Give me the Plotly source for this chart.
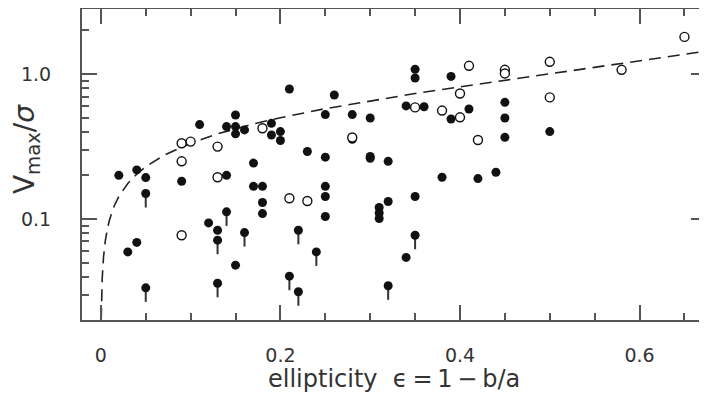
import plotly.graph_objects as go

# dashed model curve
curve_x = [0.0004, 0.0006, 0.0015, 0.003, 0.005, 0.0075, 0.01, 0.015, 0.02, 0.03, 0.04, 0.05,
           0.07, 0.1, 0.13, 0.17, 0.2, 0.25, 0.3, 0.35, 0.4, 0.45, 0.5, 0.55, 0.6, 0.65, 0.676]
curve_y = [0.0200, 0.0245, 0.0387, 0.0549, 0.0709, 0.0870, 0.1005, 0.1234, 0.1429, 0.1759, 0.2041, 0.2294,
           0.2744, 0.3333, 0.3866, 0.4526, 0.5000, 0.5774, 0.6547, 0.7338, 0.8165, 0.9045, 1.0000,
           1.1055, 1.2247, 1.3628, 1.4445]

# filled circles (measured values)
filled_x = [0.02, 0.04, 0.05, 0.09, 0.11, 0.14, 0.14, 0.15, 0.15, 0.15, 0.16, 0.17, 0.17, 0.18,
            0.18, 0.18, 0.19, 0.19, 0.20, 0.20, 0.21, 0.12, 0.13, 0.04, 0.03, 0.15, 0.23, 0.25,
            0.25, 0.25, 0.25, 0.25, 0.26, 0.28, 0.28, 0.30, 0.30, 0.30, 0.32, 0.31, 0.31, 0.31,
            0.32, 0.34, 0.34, 0.35, 0.35, 0.35, 0.36, 0.38, 0.39, 0.39, 0.41, 0.42, 0.44, 0.45,
            0.45, 0.45, 0.50]
filled_y = [0.200, 0.218, 0.193, 0.182, 0.448, 0.200, 0.434, 0.522, 0.434, 0.387, 0.412, 0.243,
            0.168, 0.168, 0.130, 0.109, 0.457, 0.380, 0.401, 0.348, 0.789, 0.094, 0.0836, 0.0689,
            0.0593, 0.048, 0.292, 0.525, 0.267, 0.168, 0.143, 0.104, 0.717, 0.525, 0.355, 0.498,
            0.262, 0.270, 0.250, 0.120, 0.110, 0.1007, 0.132, 0.603, 0.0543, 1.08, 0.939, 0.143,
            0.595, 0.194, 0.963, 0.490, 0.574, 0.190, 0.210, 0.638, 0.498, 0.366, 0.401]

# filled circles that are upper limits (with a downward tail)
limit_x = [0.05, 0.05, 0.14, 0.13, 0.13, 0.16, 0.21, 0.22, 0.22, 0.24, 0.32, 0.35]
limit_y = [0.150, 0.0335, 0.112, 0.0714, 0.036, 0.0806, 0.0403, 0.0836, 0.0315, 0.0593, 0.0346, 0.0772]

# open circles
open_x = [0.09, 0.10, 0.13, 0.18, 0.09, 0.13, 0.09, 0.21, 0.23, 0.28, 0.35, 0.38, 0.40, 0.40,
          0.41, 0.42, 0.45, 0.45, 0.50, 0.50, 0.58, 0.65]
open_y = [0.333, 0.342, 0.316, 0.423, 0.250, 0.194, 0.0772, 0.139, 0.133, 0.365, 0.589, 0.560,
          0.735, 0.503, 1.14, 0.351, 1.07, 1.01, 1.215, 0.690, 1.07, 1.805]

x_tickvals = [0, 0.2, 0.4, 0.6]
x_ticktext = ["0", "0.2", "0.4", "0.6"]
x_minor = [0.05, 0.1, 0.15, 0.25, 0.3, 0.35, 0.45, 0.5, 0.55, 0.65]
y_tickvals = [0.1, 1.0]
y_ticktext = ["0.1", "1.0"]
y_minor = [0.02, 0.03, 0.04, 0.05, 0.06, 0.07, 0.08, 0.09,
           0.2, 0.3, 0.4, 0.5, 0.6, 0.7, 0.8, 0.9, 2.0]

X_RANGE = [-0.021, 0.674]
Y_RANGE = [-1.697, 0.449]  # log10 units

TAIL = 0.2  # fractional length of upper-limit tail
INK = "#111111"
FRAME = "#555555"
TEXT = "#333333"
CLEAR = "rgba(0,0,0,0)"
FONT = "DejaVu Sans"

fig = go.Figure()
fig.add_trace(go.Scatter(x=curve_x, y=curve_y, mode="lines",
                         line=dict(color="#222222", width=1.6, dash="12px,7px"),
                         hoverinfo="skip"))
fig.add_trace(go.Scatter(x=filled_x, y=filled_y, mode="markers",
                         marker=dict(symbol="circle", size=9, color=INK, line=dict(width=0))))
fig.add_trace(go.Scatter(x=limit_x, y=limit_y, mode="markers",
                         marker=dict(symbol="circle", size=9, color=INK, line=dict(width=0)),
                         error_y=dict(type="data", symmetric=False,
                                      array=[0] * len(limit_y),
                                      arrayminus=[v * TAIL for v in limit_y],
                                      thickness=2, width=0, color="#333333")))
fig.add_trace(go.Scatter(x=open_x, y=open_y, mode="markers",
                         marker=dict(symbol="circle", size=9, color="white",
                                     line=dict(width=1.4, color=INK))))

major_frame = dict(ticks="inside", ticklen=15, tickwidth=2, tickcolor=FRAME, automargin=False,
                   showline=True, linecolor=FRAME, linewidth=1.5, mirror="ticks",
                   showgrid=False, zeroline=False, showticklabels=False)
minor_frame = dict(ticks="inside", ticklen=7, tickwidth=2, tickcolor=FRAME, automargin=False,
                   showline=False, mirror="ticks", showgrid=False, zeroline=False,
                   showticklabels=False)
label_axis = dict(ticks="outside", tickcolor=CLEAR, tickwidth=1, automargin=False,
                  showline=False, showgrid=False, zeroline=False,
                  tickfont=dict(size=19, color=TEXT, family=FONT))

fig.update_layout(
    width=699, height=387,
    margin=dict(l=74, r=1, t=1, b=75),
    paper_bgcolor="white", plot_bgcolor="white",
    showlegend=False,
    font=dict(family=FONT, color=TEXT),
    xaxis=dict(range=X_RANGE, tickmode="array", tickvals=x_tickvals, **major_frame),
    yaxis=dict(type="log", range=Y_RANGE, tickmode="array", tickvals=y_tickvals, **major_frame),
    xaxis2=dict(overlaying="x", anchor="y", side="bottom", range=X_RANGE, tickmode="array",
                tickvals=x_tickvals, ticktext=x_ticktext, ticklen=18, **label_axis),
    yaxis2=dict(overlaying="y", anchor="x", side="left", type="log", range=Y_RANGE,
                tickmode="array", tickvals=y_tickvals, ticktext=y_ticktext, ticklen=26,
                **label_axis),
    xaxis3=dict(overlaying="x", anchor="y", side="bottom", range=X_RANGE, tickmode="array",
                tickvals=x_minor, **minor_frame),
    yaxis3=dict(overlaying="y", anchor="x", side="left", type="log", range=Y_RANGE,
                tickmode="array", tickvals=y_minor, **minor_frame),
    annotations=[
        dict(text="V<sub>max</sub>/<i>σ</i>", textangle=-90, xref="paper", yref="paper",
             x=-0.088, y=0.55, xanchor="center", yanchor="middle", showarrow=False,
             font=dict(size=28, color=TEXT, family=FONT)),
        dict(text="ellipticity\u00a0\u00a0ϵ\u2009=\u20091\u2009−\u2009b/a", xref="paper", yref="paper",
             x=0.5008, y=-0.191, xanchor="center", yanchor="middle", showarrow=False,
             font=dict(size=24, color=TEXT, family=FONT)),
    ],
)
# invisible traces to activate the overlay axes (labels and minor ticks)
fig.add_trace(go.Scatter(x=[None], y=[None], xaxis="x2", yaxis="y2", showlegend=False,
                         hoverinfo="skip"))
fig.add_trace(go.Scatter(x=[None], y=[None], xaxis="x3", yaxis="y3", showlegend=False,
                         hoverinfo="skip"))

fig.write_html("out.html")
